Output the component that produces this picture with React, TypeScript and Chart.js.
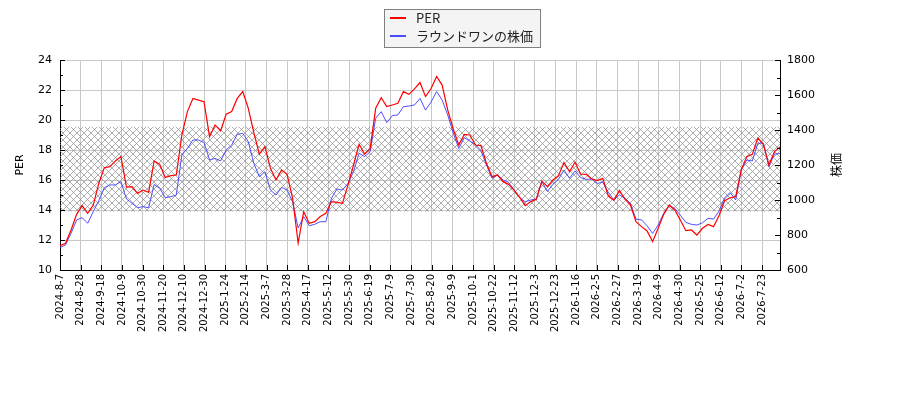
import { useEffect, useRef } from "react"
import { Chart, registerables } from "chart.js"

// Registrar componentes de Chart.js
Chart.register(...registerables)

// fechas de las marcas del eje x (una cada 15 sesiones)
const tickLabels = [
  "2024-8-7", "2024-8-28", "2024-9-18", "2024-10-9", "2024-10-30", "2024-11-20",
  "2024-12-10", "2024-12-30", "2025-1-24", "2025-2-14", "2025-3-7", "2025-3-28",
  "2025-4-17", "2025-5-12", "2025-5-30", "2025-6-19", "2025-7-9", "2025-7-30",
  "2025-8-20", "2025-9-9", "2025-10-1", "2025-10-22", "2025-11-12", "2025-12-3",
  "2025-12-23", "2026-1-16", "2026-2-5", "2026-2-27", "2026-3-19", "2026-4-9",
  "2026-4-30", "2026-5-25", "2026-6-12", "2026-7-2", "2026-7-23",
]
const TICK_EVERY = 15
const LAST_DAY = 523

// PER, una muestra cada ~4 sesiones
const perValues = [
  11.62, 11.78, 12.67, 13.71, 14.29, 13.78, 14.33, 15.78, 16.82, 16.89,
  17.27, 17.56, 15.53, 15.56, 15.11, 15.33, 15.18, 17.27, 17.04, 16.16,
  16.29, 16.33, 19.0, 20.56, 21.44, 21.33, 21.22, 18.89, 19.67, 19.27,
  20.38, 20.56, 21.44, 21.9, 20.78, 19.15, 17.73, 18.22, 16.78, 16.0,
  16.67, 16.38, 14.78, 11.8, 13.89, 13.11, 13.22, 13.56, 13.78, 14.56,
  14.51, 14.44, 15.67, 17.0, 18.38, 17.73, 18.11, 20.78, 21.49, 20.89,
  21.0, 21.11, 21.89, 21.71, 22.07, 22.5, 21.56, 22.1, 22.9, 22.33,
  20.67, 19.4, 18.33, 19.04, 19.0, 18.33, 18.29, 17.11, 16.22, 16.33,
  15.89, 15.71, 15.33, 14.84, 14.29, 14.56, 14.71, 15.93, 15.56, 16.0,
  16.29, 17.16, 16.56, 17.18, 16.4, 16.38, 16.07, 15.96, 16.11, 14.93,
  14.65, 15.3, 14.73, 14.33, 13.22, 12.89, 12.6, 11.89, 12.78, 13.71,
  14.33, 14.0, 13.33, 12.62, 12.67, 12.33, 12.78, 13.04, 12.89, 13.64,
  14.62, 14.82, 14.89, 16.67, 17.56, 17.71, 18.8, 18.38, 17.0, 17.89,
  18.2,
]

// 株価 (yen)
const priceValues = [
  728, 743, 810, 886, 899, 867, 933, 996, 1070, 1086,
  1086, 1105, 1006, 981, 956, 962, 956, 1089, 1067, 1013,
  1019, 1028, 1257, 1295, 1343, 1343, 1329, 1229, 1238, 1223,
  1286, 1314, 1375, 1381, 1333, 1209, 1133, 1162, 1057, 1028,
  1072, 1057, 990, 840, 905, 853, 861, 876, 876, 1009,
  1063, 1057, 1095, 1162, 1267, 1248, 1276, 1467, 1505, 1442,
  1482, 1486, 1533, 1537, 1543, 1580, 1514, 1560, 1620, 1571,
  1486, 1383, 1295, 1356, 1337, 1318, 1282, 1200, 1124, 1143,
  1114, 1101, 1057, 1013, 990, 1000, 1006, 1105, 1048, 1090,
  1118, 1171, 1124, 1166, 1128, 1118, 1120, 1095, 1101, 1044,
  1000, 1030, 1009, 981, 891, 886, 853, 809, 857, 924,
  967, 952, 914, 872, 861, 857, 870, 895, 891, 937,
  1013, 1042, 1000, 1171, 1229, 1223, 1325, 1324, 1190, 1263,
  1265,
]

const PER_MIN = 10
const PER_MAX = 24
const PRICE_MIN = 600
const PRICE_MAX = 1800
// banda sombreada (rango de PER)
const BAND_LOW = 13.9
const BAND_HIGH = 19.55

const STEP = LAST_DAY / (perValues.length - 1)
const FONT = "'DejaVu Sans', sans-serif"

const hatchBand = {
  id: "hatchBand",
  beforeDatasetsDraw(chart: any) {
    const { ctx, chartArea: a, scales } = chart
    const top = scales.y.getPixelForValue(BAND_HIGH)
    const bottom = scales.y.getPixelForValue(BAND_LOW)
    const tile = document.createElement("canvas")
    tile.width = 7
    tile.height = 7
    const t = tile.getContext("2d")
    if (!t) return
    t.strokeStyle = "#8c8c8c"
    t.lineWidth = 0.7
    t.beginPath()
    t.moveTo(-1, -1)
    t.lineTo(8, 8)
    t.moveTo(-1, 8)
    t.lineTo(8, -1)
    t.stroke()
    const pattern = ctx.createPattern(tile, "repeat")
    ctx.save()
    ctx.fillStyle = pattern
    ctx.fillRect(a.left, top, a.right - a.left, bottom - top)
    ctx.restore()
  },
}

// marcas hacia dentro, mayores y menores
const tickMarks = {
  id: "tickMarks",
  afterDraw(chart: any) {
    const { ctx, chartArea: a, scales } = chart
    ctx.save()
    ctx.strokeStyle = "#000"
    ctx.lineWidth = 1
    ctx.beginPath()
    for (let v = PER_MIN; v <= PER_MAX; v += 1) {
      const y = Math.round(scales.y.getPixelForValue(v)) + 0.5
      const len = v % 2 === 0 ? 5 : 3
      ctx.moveTo(a.left, y)
      ctx.lineTo(a.left + len, y)
    }
    for (let v = PRICE_MIN; v <= PRICE_MAX; v += 100) {
      const y = Math.round(scales.y2.getPixelForValue(v)) + 0.5
      const len = v % 200 === 0 ? 5 : 3
      ctx.moveTo(a.right, y)
      ctx.lineTo(a.right - len, y)
    }
    for (let i = 0; i < tickLabels.length; i++) {
      const x = Math.round(scales.x.getPixelForValue(i * TICK_EVERY)) + 0.5
      ctx.moveTo(x, a.bottom)
      ctx.lineTo(x, a.bottom - 5)
    }
    ctx.stroke()

    // títulos de los ejes
    ctx.fillStyle = "#000"
    ctx.textAlign = "center"
    ctx.textBaseline = "middle"
    const midY = (a.top + a.bottom) / 2
    ctx.font = `11px ${FONT}`
    ctx.translate(20, midY)
    ctx.rotate(-Math.PI / 2)
    ctx.fillText("PER", 0, 0)
    ctx.rotate(Math.PI / 2)
    ctx.translate(-20, -midY)
    ctx.font = "12px 'Noto Sans CJK JP', sans-serif"
    ctx.translate(836, midY)
    ctx.rotate(-Math.PI / 2)
    ctx.fillText("株価", 0, 0)
    ctx.restore()
  },
}

export default function App() {
  const chartRef = useRef<HTMLCanvasElement>(null)
  const chartInstance = useRef<Chart | null>(null)

  useEffect(() => {
    document.body.style.margin = "0"
    if (!chartRef.current) return
    if (chartInstance.current) chartInstance.current.destroy()

    const ctx = chartRef.current.getContext("2d")
    if (!ctx) return

    chartInstance.current = new Chart(ctx, {
      type: "line",
      data: {
        datasets: [
          {
            label: "PER",
            data: perValues.map((v, k) => ({ x: k * STEP, y: v })),
            borderColor: "#ff0000",
            borderWidth: 1.2,
            pointRadius: 0,
            tension: 0,
            yAxisID: "y",
          },
          {
            label: "ラウンドワンの株価",
            data: priceValues.map((v, k) => ({ x: k * STEP, y: v })),
            borderColor: "#3c3cff",
            borderWidth: 0.9,
            pointRadius: 0,
            tension: 0,
            yAxisID: "y2",
          },
        ],
      },
      options: {
        responsive: false,
        animation: false,
        layout: { padding: { top: 60 } },
        plugins: {
          legend: { display: false },
          tooltip: { enabled: false },
        },
        scales: {
          x: {
            type: "linear",
            min: 0,
            max: LAST_DAY,
            afterFit: (s: any) => {
              s.height = 130
            },
            border: { color: "#000", width: 1 },
            grid: { color: "#c8c8c8", drawTicks: false },
            ticks: {
              stepSize: TICK_EVERY,
              includeBounds: false,
              autoSkip: false,
              minRotation: 90,
              maxRotation: 90,
              padding: 4,
              color: "#000",
              font: { family: FONT, size: 10 },
              callback: (v: any) => tickLabels[Math.round(Number(v) / TICK_EVERY)] ?? "",
            },
          },
          y: {
            position: "left",
            min: PER_MIN,
            max: PER_MAX,
            afterFit: (s: any) => {
              s.width = 60
            },
            border: { color: "#000", width: 1 },
            grid: { color: "#c8c8c8", drawTicks: false },
            ticks: {
              stepSize: 2,
              padding: 8,
              color: "#000",
              font: { family: FONT, size: 11 },
              callback: (v: any) => String(v),
            },
          },
          y2: {
            position: "right",
            min: PRICE_MIN,
            max: PRICE_MAX,
            afterFit: (s: any) => {
              s.width = 120
            },
            border: { color: "#000", width: 1 },
            grid: { display: false, drawTicks: false },
            ticks: {
              stepSize: 200,
              padding: 7,
              color: "#000",
              font: { family: FONT, size: 11 },
              callback: (v: any) => String(v),
            },
          },
        },
      },
      plugins: [hatchBand, tickMarks],
    })

    return () => {
      if (chartInstance.current) {
        chartInstance.current.destroy()
        chartInstance.current = null
      }
    }
  }, [])

  const swatch = (color: string) => ({ width: 16, height: 0, borderTop: `2px solid ${color}`, marginRight: 10 })

  return (
    <div style={{ position: "relative", width: 900, height: 400, background: "#fff" }}>
      <canvas ref={chartRef} width={900} height={400} />
      <div
        style={{
          position: "absolute",
          left: 384,
          top: 9,
          width: 150,
          height: 37,
          background: "#f4f4f4",
          border: "1px solid #808080",
          padding: "0 0 0 5px",
          boxSizing: "content-box",
          fontFamily: "'Noto Sans CJK JP', sans-serif",
          fontSize: 13,
          color: "#222",
          lineHeight: "16px",
        }}
      >
        <div style={{ display: "flex", alignItems: "center", height: 15 }}>
          <span style={swatch("#ff0000")} />
          <span>PER</span>
        </div>
        <div style={{ display: "flex", alignItems: "center", height: 22 }}>
          <span style={swatch("#4a4aff")} />
          <span>ラウンドワンの株価</span>
        </div>
      </div>
    </div>
  )
}
